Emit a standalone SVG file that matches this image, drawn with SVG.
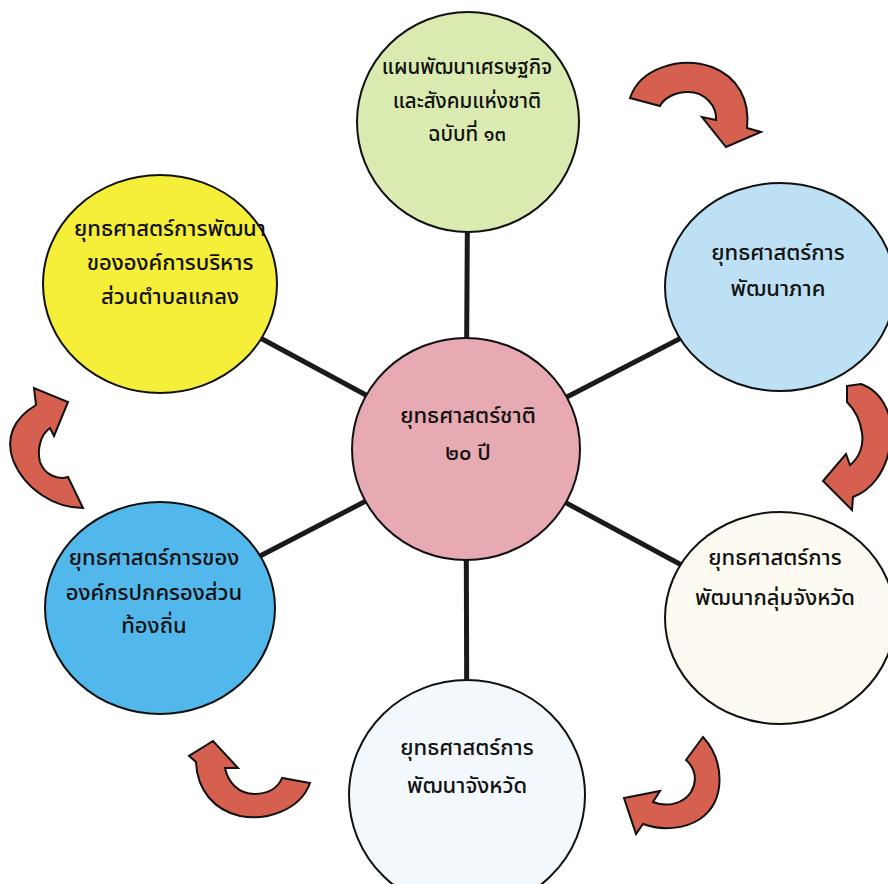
<svg xmlns="http://www.w3.org/2000/svg" width="888" height="884" viewBox="0 0 888 884">
<style>
.spoke{stroke:#1a1a1a;stroke-width:5;fill:none}
.node{stroke:#111;stroke-width:2}
.arrow{fill:#d6604f;stroke:#111;stroke-width:2;stroke-linejoin:miter}
.t{font-family:"Noto Sans Thai","Noto Sans Thai UI","Loma","Garuda","Tlwg Typo","DejaVu Sans","Noto Sans",sans-serif;font-size:22px;font-weight:500;fill:#111;text-anchor:middle}
.s{font-size:20.5px}
</style>
<rect width="888" height="884" fill="#ffffff"/>
<g id="connectors">
<line class="spoke" x1="466" y1="449" x2="468" y2="122"/>
<line class="spoke" x1="466" y1="449" x2="780" y2="287"/>
<line class="spoke" x1="466" y1="449" x2="780" y2="618"/>
<line class="spoke" x1="466" y1="449" x2="467" y2="795"/>
<line class="spoke" x1="466" y1="449" x2="160" y2="608"/>
<line class="spoke" x1="466" y1="449" x2="160" y2="284"/>
</g>
<g id="arrows">
<path class="arrow" d="M630,98 C640,68 680,56 712,67 C738,77 750,100 747,128 L761,132 L726,147 L702,117 L716,120 C717,106 705,92 688,92 C675,92 664,98 660,106 Z"/>
<path class="arrow" d="M847,386 L861,384 C884,392 896,420 890,447 C885,472 872,490 853,497 L852,510 L823,481 L846,454 L850,465 C859,458 864,446 862,433 C860,418 853,408 847,402 Z"/>
<path class="arrow" d="M703,737 C724,760 727,800 700,819 C685,829 662,831 643,824 L636,834 L624,798 L660,791 L653,802 C668,808 684,803 691,792 C698,780 695,768 686,760 Z"/>
<path class="arrow" d="M310,783 C300,811 265,821 240,816 C214,810 197,790 196,762 L189,756 L213,741 L238,768 L225,768 C228,782 238,794 255,794 C268,794 278,788 282,778 Z"/>
<path class="arrow" d="M83,508 C55,508 25,490 13,460 C5,437 14,418 36,405 L34,388 L68,402 L54,436 L50,428 C40,435 37,450 40,462 C45,475 57,480 68,477 Z"/>
</g>
<g id="n-top">
<ellipse class="node" cx="468" cy="122" rx="111" ry="110" fill="#d9ebb0"/>
<text class="t s" x="467" y="74">แผนพัฒนาเศรษฐกิจ</text>
<text class="t s" x="467" y="108">และสังคมแห่งชาติ</text>
<text class="t s" x="467" y="141">ฉบับที่ ๑๓</text>
</g>
<g id="n-region">
<ellipse class="node" cx="780" cy="287" rx="115" ry="104" fill="#bde0f4"/>
<text class="t" x="778" y="260">ยุทธศาสตร์การ</text>
<text class="t" x="778" y="296">พัฒนาภาค</text>
</g>
<g id="n-cluster">
<ellipse class="node" cx="780" cy="618" rx="115" ry="106" fill="#fdfbf1"/>
<text class="t" x="775" y="565">ยุทธศาสตร์การ</text>
<text class="t" x="775" y="605">พัฒนากลุ่มจังหวัด</text>
</g>
<g id="n-province">
<ellipse class="node" cx="467" cy="795" rx="118" ry="115" fill="#f3f8fd"/>
<text class="t" x="467" y="755">ยุทธศาสตร์การ</text>
<text class="t" x="467" y="793">พัฒนาจังหวัด</text>
</g>
<g id="n-local">
<ellipse class="node" cx="160" cy="608" rx="115" ry="106" fill="#52b8ec"/>
<text class="t" x="154" y="565">ยุทธศาสตร์การของ</text>
<text class="t" x="154" y="600">องค์กรปกครองส่วน</text>
<text class="t" x="154" y="633">ท้องถิ่น</text>
</g>
<g id="n-tambon">
<ellipse class="node" cx="160" cy="284" rx="117" ry="109" fill="#f6ef3a"/>
<text class="t" x="170" y="236">ยุทธศาสตร์การพัฒนา</text>
<text class="t" x="170" y="270">ขององค์การบริหาร</text>
<text class="t" x="170" y="304">ส่วนตำบลแกลง</text>
</g>
<g id="n-center">
<ellipse class="node" cx="466" cy="449" rx="114" ry="111" fill="#e7aab3"/>
<text class="t" x="468" y="423">ยุทธศาสตร์ชาติ</text>
<text class="t" x="468" y="460">๒๐ ปี</text>
</g>
</svg>
